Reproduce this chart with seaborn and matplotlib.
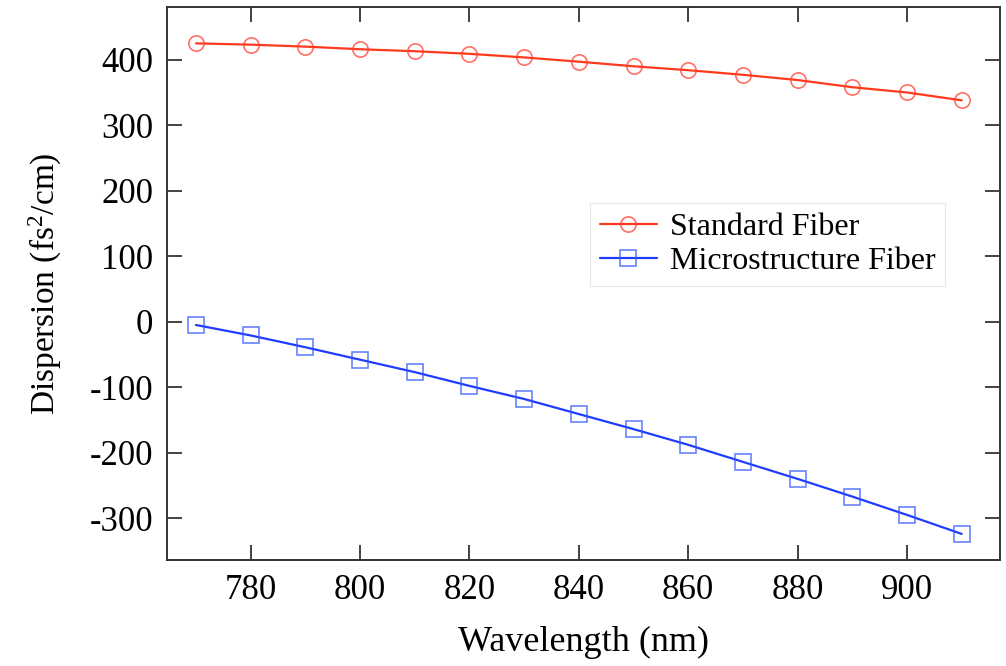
import numpy as np
import pandas as pd
import matplotlib
matplotlib.use("Agg")
import matplotlib.pyplot as plt
import seaborn as sns

# Data
wavelength = [770, 780, 790, 800, 810, 820, 830, 840, 850, 860, 870, 880, 890, 900, 910]
standard_fiber = [425, 423, 420, 416, 413, 409, 403.5, 397, 390, 384, 377, 369, 358, 350, 338]
micro_fiber = [-5, -21, -39, -58, -77, -98, -118, -141, -164, -188, -214, -240, -267, -295, -324]

x_ticks = [780, 800, 820, 840, 860, 880, 900]
y_ticks = [-300, -200, -100, 0, 100, 200, 300, 400]

df = pd.DataFrame({
    "Wavelength": wavelength * 2,
    "Dispersion": standard_fiber + micro_fiber,
    "Fiber": ["Standard Fiber"] * len(wavelength) + ["Microstructure Fiber"] * len(wavelength),
})

sns.set_style("ticks")
plt.rcParams["font.family"] = ["Liberation Serif", "DejaVu Serif"]
plt.rcParams["mathtext.fontset"] = "custom"
plt.rcParams["mathtext.rm"] = "Liberation Serif"
plt.rcParams["axes.unicode_minus"] = False

fig = plt.figure(figsize=(10.06, 6.66), dpi=100)
ax = fig.add_axes([0.166, 0.159, 0.828, 0.830])

styles = {
    "Standard Fiber": dict(color="#ff3a1c", marker="o", mec=(1.0, 0.25, 0.2, 0.75)),
    "Microstructure Fiber": dict(color="#1f3cff", marker="s", mec=(0.2, 0.35, 1.0, 0.75)),
}
for name, st in styles.items():
    sub = df[df["Fiber"] == name]
    sns.lineplot(data=sub, x="Wavelength", y="Dispersion", ax=ax, label=name,
                 color=st["color"], marker=st["marker"], markersize=11,
                 markerfacecolor="none", markeredgecolor=st["mec"],
                 markeredgewidth=1.2, linewidth=1.6)

ax.set_xlim(764.7, 917)
ax.set_ylim(-364, 480)
ax.set_xticks(x_ticks)
ax.set_yticks(y_ticks)
ax.tick_params(direction="in", length=11, width=1.2, top=True, right=True,
               labelsize=25, pad=10, colors="#222222", labelcolor="black")
for sp in ax.spines.values():
    sp.set_linewidth(1.4)
    sp.set_color("#333333")

ax.set_xlabel("Wavelength (nm)", fontsize=26, labelpad=14, color="black")
ax.set_ylabel("Dispersion (f$\\mathregular{s^2}$/cm)", fontsize=24, labelpad=18, color="black")

leg = ax.legend(loc="upper left", bbox_to_anchor=(0.508, 0.646), fontsize=23,
                frameon=True, fancybox=False, framealpha=1, edgecolor="#e6e6e6",
                handlelength=1.8, handletextpad=0.4, labelspacing=0.15,
                borderpad=0.3, borderaxespad=0)
leg.get_frame().set_linewidth(0.8)
for t in leg.get_texts():
    t.set_color("black")

fig.savefig("out.png", dpi=100)
